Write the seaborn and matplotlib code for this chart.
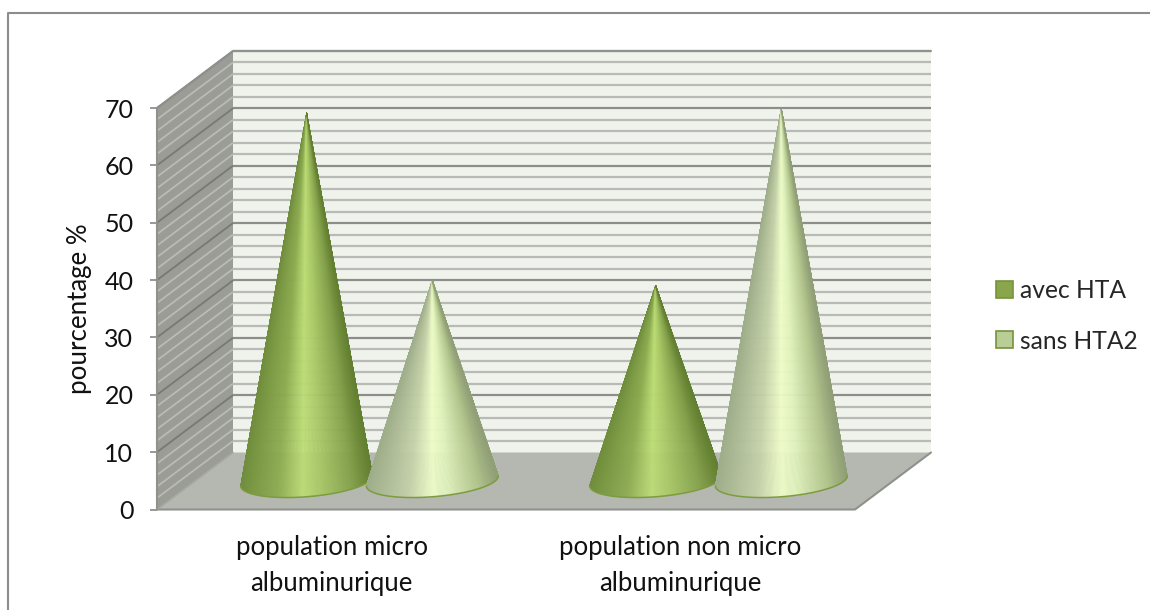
import numpy as np
import pandas as pd
import matplotlib
matplotlib.use("Agg")
import matplotlib.pyplot as plt
from matplotlib.colors import LinearSegmentedColormap
from matplotlib.collections import PolyCollection
from matplotlib.lines import Line2D
from matplotlib.patches import Polygon
import seaborn as sns

categories = ["population micro\nalbuminurique", "population non micro\nalbuminurique"]
series_names = ["avec HTA", "sans HTA2"]
avec_hta = [64.2, 34.1]
sans_hta2 = [35.0, 65.0]
y_ticks = [0, 10, 20, 30, 40, 50, 60, 70]

sns.set_theme(style="white")
plt.rcParams["font.family"] = ["Lato", "DejaVu Sans"]

df = pd.DataFrame({
    "categorie": categories * 2,
    "serie": [series_names[0]] * 2 + [series_names[1]] * 2,
    "valeur": avec_hta + sans_hta2,
})

fig = plt.figure(figsize=(11.5, 6.1), dpi=100)
ax = fig.add_axes([157 / 1150, 100.5 / 610, 698 / 1150, 401.5 / 610])

sns.barplot(data=df, x="categorie", y="valeur", hue="serie", order=categories,
            hue_order=series_names, palette=["#8aa64c", "#b9cd96"], width=0.72,
            errorbar=None, saturation=1, ax=ax)
ax.set_xlim(-0.5, 1.5)
ax.set_ylim(0, 70)

# depth of the 3-D box, in data units
DX = 76 / 349
DY = 57 / (401.5 / 70)

grid_minor, grid_major = "#b8bab5", "#8c8e8a"

# back wall
ax.add_patch(Polygon([(-0.5 + DX, DY), (1.5 + DX, DY), (1.5 + DX, 70 + DY), (-0.5 + DX, 70 + DY)],
                     closed=True, fc="#f0f2ec", ec="none", clip_on=False, zorder=0.5))
# side wall
ax.add_patch(Polygon([(-0.5, 0), (-0.5 + DX, DY), (-0.5 + DX, 70 + DY), (-0.5, 70)],
                     closed=True, fc="#9a9c95", ec="none", clip_on=False, zorder=0.5))
# floor
ax.add_patch(Polygon([(-0.5, 0), (1.5, 0), (1.5 + DX, DY), (-0.5 + DX, DY)],
                     closed=True, fc="#b5b7b1", ec="none", clip_on=False, zorder=0.6))
for v in np.arange(2, 72, 2):
    major = v % 10 == 0
    ax.plot([-0.5 + DX, 1.5 + DX], [v + DY, v + DY], color=grid_major if major else grid_minor,
            lw=1.6, clip_on=False, zorder=0.55, solid_capstyle="butt")
    ax.plot([-0.5, -0.5 + DX], [v, v + DY], color="#777973" if major else "#b9bbb5",
            lw=1.3, clip_on=False, zorder=0.55, solid_capstyle="butt")
# box edges
ax.plot([-0.5, 1.5, 1.5 + DX], [0, 0, DY], color="#8f918d", lw=1.5, clip_on=False, zorder=0.7)
ax.plot([-0.5, -0.5 + DX], [0, DY], color="#a5a7a2", lw=1.2, clip_on=False, zorder=0.7)
ax.plot([-0.5, -0.5, -0.5 + DX, 1.5 + DX], [0, 70, 70 + DY, 70 + DY], color="#8f918d", lw=1.5,
        clip_on=False, zorder=0.7)

shade_green = LinearSegmentedColormap.from_list("g", [
    (0.0, "#6f8d3c"), (0.08, "#7a9843"), (0.28, "#8dac50"), (0.47, "#bcdd76"),
    (0.62, "#a8c765"), (0.85, "#84a14b"), (1.0, "#637f31")])
shade_light = LinearSegmentedColormap.from_list("l", [
    (0.0, "#9fae8a"), (0.12, "#adbb96"), (0.32, "#c5d2a9"), (0.5, "#eefcc8"),
    (0.62, "#e0f2bc"), (0.85, "#b3c68d"), (1.0, "#909f76")])
shades = [shade_green, shade_light]
outlines = ["#7d9c3e", "#7d9c3e"]

# replace every seaborn bar by a cone standing at mid-depth on the floor
for i, container in enumerate(ax.containers):
    for bar in container:
        cx = bar.get_x() + bar.get_width() / 2 + DX / 2
        top = bar.get_height()
        cy = DY / 2
        a = bar.get_width() / 2 * 1.05
        shear, b = 0.87, 2.75
        t = np.linspace(np.pi - 0.12, 2 * np.pi + 0.12, 241)
        bx = cx + a * np.cos(t)
        by = cy + shear * np.cos(t) + b * np.sin(t)
        facets = [[(cx, cy + top), (bx[k], by[k]), (bx[k + 1], by[k + 1])] for k in range(len(t) - 1)]
        u = (np.cos((t[:-1] + t[1:]) / 2) + 1) / 2
        pc = PolyCollection(facets, facecolors=shades[i](u), edgecolors=shades[i](u), linewidths=0.3,
                            clip_on=False, zorder=2 + i)
        ax.add_collection(pc)
        front = (t >= np.pi) & (t <= 2 * np.pi)
        ax.plot(bx[front], by[front], color=outlines[i], lw=1.1, clip_on=False, zorder=2.1 + i)
        bar.set_visible(False)

ax.set_xlabel("")
ax.set_ylabel("pourcentage %", fontsize=18.6, color="#111111", labelpad=9)
ax.set_yticks(y_ticks)
ax.tick_params(axis="y", length=5, width=1.3, color="#8f918d", labelsize=18, labelcolor="#111111", pad=12, left=True)
ax.tick_params(axis="x", length=0, labelsize=18.5, labelcolor="#111111", pad=18)
for lab in ax.get_xticklabels():
    lab.set_linespacing(1.6)
for s in ax.spines.values():
    s.set_visible(False)
ax.patch.set_alpha(0)

leg = ax.legend(loc="center left", bbox_to_anchor=(996 / 1150, 294 / 610),
                bbox_transform=fig.transFigure, frameon=False, fontsize=17.7, title=None,
                handlelength=0.68, handleheight=0.68, handletextpad=0.3, labelspacing=1.1,
                borderpad=0, borderaxespad=0)
for h in leg.legend_handles:
    h.set_edgecolor("#76923c")
    h.set_linewidth(1.2)

# chart frame: only the top and left sides fall inside the picture
fig.add_artist(Line2D([8 / 1150, 8 / 1150, 1], [0, (610 - 12.5) / 610, (610 - 12.5) / 610],
                      transform=fig.transFigure, color="#8c8c8c", lw=1.5))

fig.savefig("out.png", dpi=100)
